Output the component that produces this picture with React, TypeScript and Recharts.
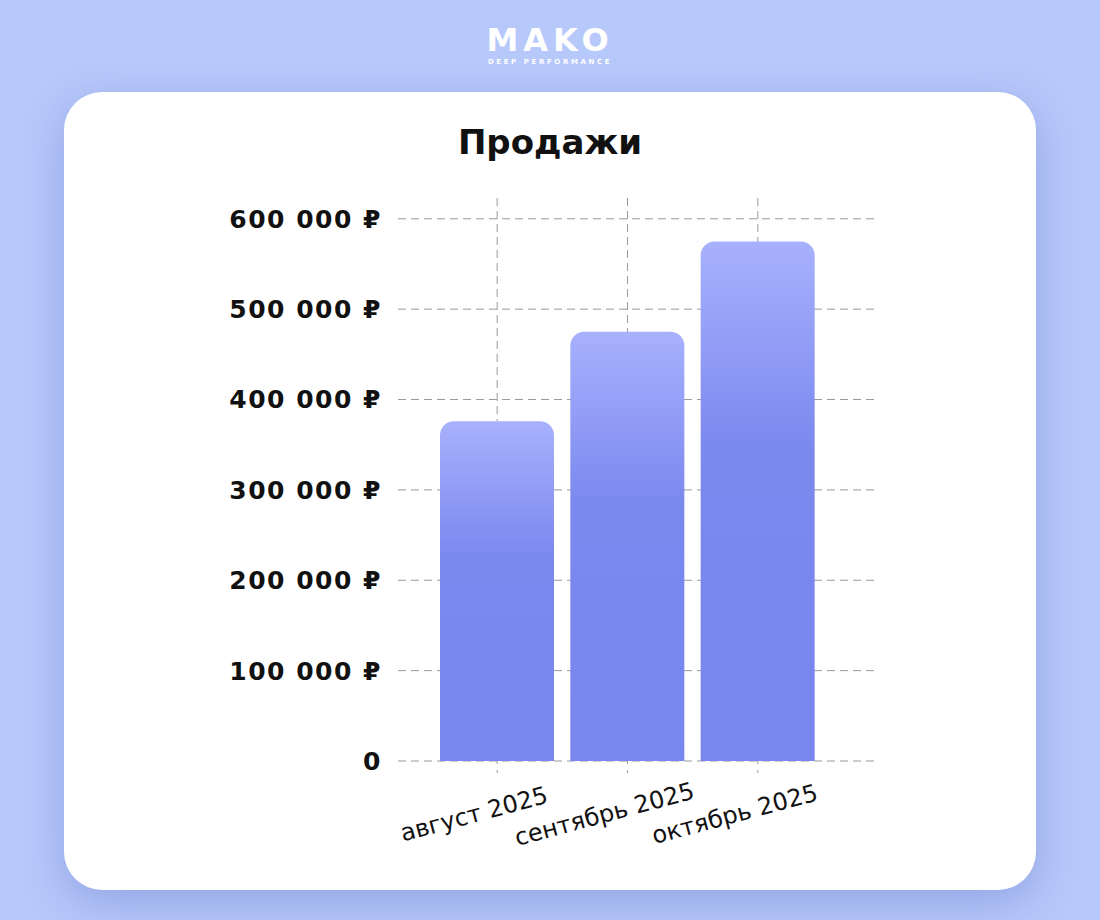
import React from 'react';
import { BarChart, Bar, XAxis, YAxis, CartesianGrid } from 'recharts';

const MONTHS = ['август 2025', 'сентябрь 2025', 'октябрь 2025'];
const SALES = [376000, 475000, 575000];
const Y_TICKS = [0, 100000, 200000, 300000, 400000, 500000, 600000];

const data = MONTHS.map((month, i) => ({ month, sales: SALES[i] }));

const FONT = '"DejaVu Sans", sans-serif';

const formatRub = (v: number) =>
  v === 0 ? '0' : `${v.toLocaleString('ru-RU').replace(/\s/g, ' ')} ₽`;

const AngledTick = (props: any) => {
  const { x, y, payload } = props;
  return (
    <g transform={`translate(${x},${y})`}>
      <text
        x={-21}
        y={47}
        textAnchor="middle"
        transform="rotate(-15, -21, 47)"
        fill="#111"
        fontFamily={FONT}
        fontSize={24}
      >
        {payload.value}
      </text>
    </g>
  );
};

export default function App() {
  return (
    <div
      style={{
        position: 'fixed',
        left: 0,
        top: 0,
        width: 1100,
        height: 920,
        background: '#b7c8fa',
        overflow: 'hidden',
        fontFamily: FONT,
      }}
    >
      {/* logo */}
      <div
        style={{
          position: 'absolute',
          left: 0,
          width: 1100,
          top: 22,
          textAlign: 'center',
          color: '#fff',
          fontWeight: 700,
          fontSize: 32,
          letterSpacing: 5,
          lineHeight: '36px',
        }}
      >
        MAKO
      </div>
      <div
        style={{
          position: 'absolute',
          left: 0,
          width: 1100,
          top: 58,
          textAlign: 'center',
          color: '#fff',
          fontWeight: 700,
          fontSize: 7,
          letterSpacing: 2.6,
        }}
      >
        DEEP PERFORMANCE
      </div>

      <div
        style={{
          position: 'absolute',
          left: 64,
          top: 92,
          width: 972,
          height: 798,
          background: '#fff',
          borderRadius: 38,
          boxShadow: '0 12px 40px rgba(80, 100, 190, 0.35)',
        }}
      >
        <div
          style={{
            position: 'absolute',
            left: 0,
            width: 972,
            top: 30,
            textAlign: 'center',
            fontSize: 34,
            fontWeight: 700,
            color: '#111',
          }}
        >
          Продажи
        </div>
        <BarChart
          width={972}
          height={798}
          data={data}
          margin={{ top: 106, right: 161, bottom: 49, left: 234 }}
          barSize={114}
        >
          <defs>
            <linearGradient id="barFill" x1="0" y1="0" x2="0" y2="1">
              <stop offset="0%" stopColor="#a7b1fd" />
              <stop offset="40%" stopColor="#7b88ee" />
              <stop offset="100%" stopColor="#7986ee" />
            </linearGradient>
          </defs>
          {/* syncWithTicks: lines only at ticks, no plot border */}
          <CartesianGrid stroke="#9a9a9a" strokeDasharray="8 5" syncWithTicks />
          <XAxis
            dataKey="month"
            axisLine={false}
            tickLine={{ stroke: '#9a9a9a', strokeDasharray: '3 6' }}
            tickSize={12}
            tickMargin={2}
            padding={{ left: 34, right: 52 }}
            height={80}
            interval={0}
            tick={<AngledTick />}
          />
          <YAxis
            type="number"
            domain={[0, 623000]}
            ticks={Y_TICKS}
            axisLine={false}
            tickLine={false}
            tickSize={0}
            tickMargin={16}
            width={100}
            tickFormatter={formatRub}
            tick={{ fill: '#111', fontFamily: FONT, fontSize: 25, fontWeight: 700, letterSpacing: 1.5 }}
          />
          <Bar
            dataKey="sales"
            fill="url(#barFill)"
            radius={[14, 14, 0, 0]}
            isAnimationActive={false}
          />
        </BarChart>
      </div>
    </div>
  );
}
